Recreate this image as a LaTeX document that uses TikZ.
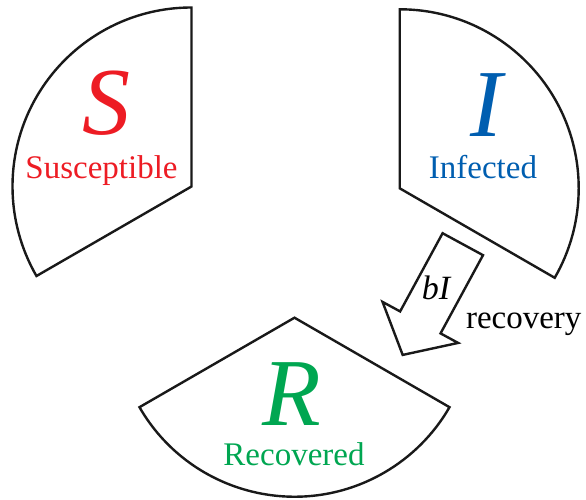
\documentclass[tikz,border=0pt]{standalone}
\usepackage{fontspec}
\setmainfont{Liberation Serif}
\definecolor{sred}{RGB}{237,28,36}
\definecolor{iblue}{RGB}{0,94,176}
\definecolor{rgreen}{RGB}{0,166,81}
\begin{document}
\begin{tikzpicture}[x=1pt,y=1pt,
  sector/.style={draw=black!90,line width=2.4pt,line join=miter},
  bigletter/.style={font=\fontsize{96}{96}\selectfont\itshape,anchor=base},
  caption/.style={font=\fontsize{33}{33}\selectfont,anchor=base},
  flowarrow/.style={draw=black!90,line width=2.4pt,fill=white,line join=miter}]
\useasboundingbox (0,0) rectangle (586,499);
% apexes of the three slices of the exploded pie
\coordinate (sApex) at (191.5,312.5);
\coordinate (iApex) at (399.7,310.7);
\coordinate (rApex) at (294.5,181.3);
\def\rad{179}
% slices
\draw[sector] (sApex) -- ++(90:\rad) arc[start angle=90,end angle=210,radius=\rad] -- cycle;
\draw[sector] (iApex) -- ++(90:\rad) arc[start angle=90,end angle=-30,radius=\rad] -- cycle;
\draw[sector] (rApex) -- ++(210:\rad) arc[start angle=210,end angle=330,radius=\rad] -- cycle;
% labels
\node[bigletter,text=sred] (sLetter) at (106,364) {S};
\node[caption,text=sred] (sName) at (101.5,321) {Susceptible};
\node[bigletter,text=iblue] (iLetter) at (486,362) {I};
\node[caption,text=iblue] (iName) at (483,321) {Infected};
\node[bigletter,text=rgreen] (rLetter) at (292,74) {R};
\node[caption,text=rgreen] (rName) at (294,34) {Recovered};
% block arrow from I to R
\begin{scope}[shift={(462.8,254.8)},rotate=241.5]
  \coordinate (tailL) at (0,23);
  \coordinate (tailR) at (0,-23);
  \coordinate (neckR) at (89,-23);
  \coordinate (barbR) at (89,-43);
  \coordinate (tip) at (126,0);
  \coordinate (barbL) at (89,43);
  \coordinate (neckL) at (89,23);
\end{scope}
\draw[flowarrow] (tailL) -- (tailR) -- (neckR) -- (barbR) -- (tip) -- (barbL) -- (neckL) -- cycle;
\node[caption,font=\fontsize{34}{34}\selectfont\itshape] (rate) at (436,200) {bI};
\node[caption,anchor=base east] (recov) at (585,171) {recovery};
\end{tikzpicture}
\end{document}
